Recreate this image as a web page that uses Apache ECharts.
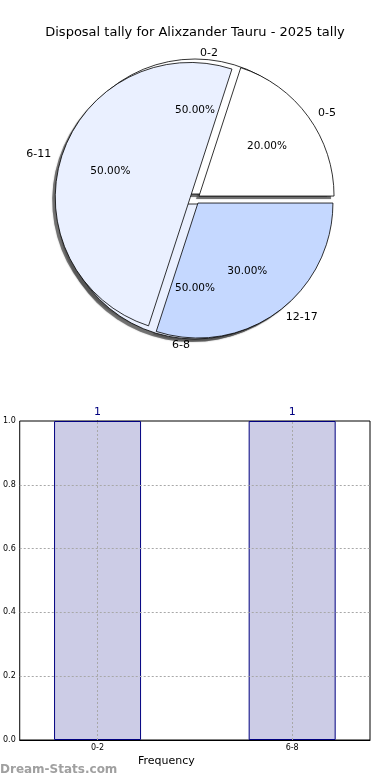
<!DOCTYPE html>
<html>
<head>
<meta charset="utf-8">
<script src="https://cdn.jsdelivr.net/npm/echarts@6/dist/echarts.min.js"></script>
<style>
html,body{margin:0;padding:0;background:#fff;}
#chart{width:390px;height:780px;}
</style>
</head>
<body>
<div id="chart"></div>
<script>
// ---- data ----
var titleText = 'Disposal tally for Alixzander Tauru - 2025 tally';
var pieOuterCats = ['0-2', '6-8'];
var pieOuterVals = [1, 1];
var pieInnerCats = ['0-5', '6-11', '12-17'];
var pieInnerVals = [20, 50, 30];
var barCats = ['0-2', '6-8'];
var barVals = [1, 1];
var yTicks = [0, 0.2, 0.4, 0.6, 0.8, 1.0];
var xAxisTitle = 'Frequency';
var watermark = 'Dream-Stats.com';

// ---- styling ----
var palette = ['#ffffff', '#eaf0ff', '#c5d8ff'];
var FONT = 'DejaVu Sans';
var R = 135;
var CX = 195, CY = 199;
var gridLine = { color: '#a8a8a8', type: [2, 2], width: 1 };

function pieData(cats, vals, color) {
  return cats.map(function (c, i) {
    return {
      name: c, value: vals[i], selected: true,
      itemStyle: { color: color || palette[i % palette.length] }
    };
  });
}

function basePie(cats, vals, color, center, radius) {
  return {
    type: 'pie', center: center, radius: radius,
    startAngle: 0, clockwise: false,
    selectedMode: 'multiple', selectedOffset: 5,
    avoidLabelOverlap: false, silent: true, animation: false,
    data: pieData(cats, vals, color),
    label: { show: false },
    labelLine: { show: false }
  };
}

function shadowPie(cats, vals) {
  var s = basePie(cats, vals, 'rgba(90,90,90,0.75)', [CX - 3, CY + 3], [0, R]);
  s.itemStyle = { borderWidth: 0, shadowBlur: 1.5, shadowColor: 'rgba(0,0,0,0.4)' };
  s.select = { itemStyle: { borderWidth: 0 } };
  return s;
}

function visiblePie(cats, vals) {
  var s = basePie(cats, vals, null, [CX, CY], [0, R]);
  s.itemStyle = { borderColor: '#000', borderWidth: 0.8 };
  s.select = { itemStyle: { borderColor: '#000', borderWidth: 0.8 } };
  s.label = {
    show: true, position: 'outside', formatter: '{b}',
    fontFamily: FONT, fontSize: 11, color: '#000'
  };
  s.labelLine = { show: false, length: 6, length2: 0 };
  return s;
}

function pctPie(cats, vals) {
  var s = basePie(cats, vals, 'rgba(0,0,0,0)', [CX, CY], [0.2 * R, R]);
  s.itemStyle = { borderWidth: 0 };
  s.select = { itemStyle: { color: 'rgba(0,0,0,0)', borderWidth: 0 } };
  s.label = {
    show: true, position: 'inside',
    formatter: function (p) { return p.percent.toFixed(2) + '%'; },
    fontFamily: FONT, fontSize: 10.5, color: '#000'
  };
  return s;
}

var chart = echarts.init(document.getElementById('chart'), null, { renderer: 'canvas' });

var option = {
  animation: false,
  backgroundColor: '#fff',
  title: {
    text: titleText, left: 'center', top: 21,
    textStyle: { fontFamily: FONT, fontSize: 13, fontWeight: 'normal', color: '#000' }
  },
  grid: {
    left: 19, right: 20, top: 421, bottom: 40,
    show: true, borderColor: '#000', borderWidth: 1, backgroundColor: 'transparent'
  },
  xAxis: {
    type: 'value', min: -0.4, max: 1.4,
    axisLine: { show: true, lineStyle: { color: '#000' } },
    axisTick: { show: true, customValues: [0, 1], inside: true, length: 3, lineStyle: { color: '#000' } },
    axisLabel: {
      customValues: [0, 1], margin: 4,
      formatter: function (v) { return barCats[Math.round(v)]; },
      fontFamily: FONT, fontSize: 8, color: '#000'
    },
    splitLine: { show: false }
  },
  yAxis: {
    type: 'value', min: yTicks[0], max: yTicks[yTicks.length - 1], interval: 0.2,
    axisLine: { show: true, lineStyle: { color: '#000' } },
    axisTick: { show: false },
    axisLabel: {
      margin: 4, fontFamily: FONT, fontSize: 8, color: '#000',
      formatter: function (v) { return v.toFixed(1); }
    },
    splitLine: { show: false }
  },
  graphic: [
    { type: 'text', left: 138, top: 756,
      style: { text: xAxisTitle, fontFamily: FONT, fontSize: 11, fill: '#000' } },
    { type: 'text', left: 0, top: 764,
      style: { text: watermark, fontFamily: FONT, fontSize: 12, fontWeight: 'bold', fill: '#a0a0a0' } }
  ],
  series: [
    shadowPie(pieOuterCats, pieOuterVals),
    shadowPie(pieInnerCats, pieInnerVals),
    visiblePie(pieOuterCats, pieOuterVals),
    visiblePie(pieInnerCats, pieInnerVals),
    pctPie(pieOuterCats, pieOuterVals),
    pctPie(pieInnerCats, pieInnerVals),
    {
      type: 'bar', barWidth: 87, silent: true,
      data: barCats.map(function (c, i) { return [i, barVals[i]]; }),
      itemStyle: { color: '#ccccE6', borderColor: '#000080', borderWidth: 1 },
      label: { show: true, position: 'top', distance: 3, color: '#000080',
               fontFamily: FONT, fontSize: 11 },
      markLine: {
        silent: true, symbol: 'none', animation: false,
        label: { show: false },
        lineStyle: gridLine,
        emphasis: { disabled: true },
        data: barCats.map(function (c, i) { return { xAxis: i }; })
          .concat(yTicks.slice(1, -1).map(function (v) { return { yAxis: v }; }))
      }
    }
  ]
};
chart.setOption(option);
</script>
</body>
</html>
